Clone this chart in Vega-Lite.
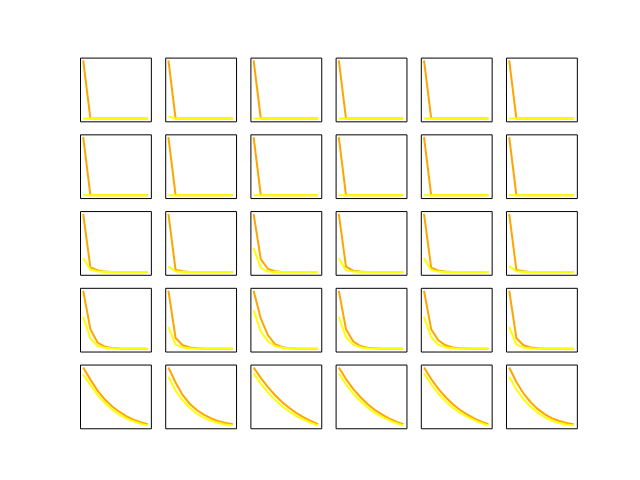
{
  "$schema": "https://vega.github.io/schema/vega-lite/v6.json",
  "padding": {"left": 78, "top": 55.6, "right": 0, "bottom": 0},
  "background": "white",
  "config": {"view": {"stroke": "black", "strokeWidth": 1}},
  "data": {"values": [
{"r":1,"c":1,"x":0,"o":1,"w":0},{"r":1,"c":1,"x":1,"o":0,"w":0},{"r":1,"c":1,"x":2,"o":0,"w":0},{"r":1,"c":1,"x":3,"o":0,"w":0},{"r":1,"c":1,"x":4,"o":0,"w":0},{"r":1,"c":1,"x":5,"o":0,"w":0},{"r":1,"c":1,"x":6,"o":0,"w":0},{"r":1,"c":1,"x":7,"o":0,"w":0},{"r":1,"c":1,"x":8,"o":0,"w":0},{"r":1,"c":1,"x":9,"o":0,"w":0},
{"r":1,"c":2,"x":0,"o":1,"w":0.035},{"r":1,"c":2,"x":1,"o":0,"w":0},{"r":1,"c":2,"x":2,"o":0,"w":0},{"r":1,"c":2,"x":3,"o":0,"w":0},{"r":1,"c":2,"x":4,"o":0,"w":0},{"r":1,"c":2,"x":5,"o":0,"w":0},{"r":1,"c":2,"x":6,"o":0,"w":0},{"r":1,"c":2,"x":7,"o":0,"w":0},{"r":1,"c":2,"x":8,"o":0,"w":0},{"r":1,"c":2,"x":9,"o":0,"w":0},
{"r":1,"c":3,"x":0,"o":1,"w":0},{"r":1,"c":3,"x":1,"o":0,"w":0},{"r":1,"c":3,"x":2,"o":0,"w":0},{"r":1,"c":3,"x":3,"o":0,"w":0},{"r":1,"c":3,"x":4,"o":0,"w":0},{"r":1,"c":3,"x":5,"o":0,"w":0},{"r":1,"c":3,"x":6,"o":0,"w":0},{"r":1,"c":3,"x":7,"o":0,"w":0},{"r":1,"c":3,"x":8,"o":0,"w":0},{"r":1,"c":3,"x":9,"o":0,"w":0},
{"r":1,"c":4,"x":0,"o":1,"w":0},{"r":1,"c":4,"x":1,"o":0,"w":0},{"r":1,"c":4,"x":2,"o":0,"w":0},{"r":1,"c":4,"x":3,"o":0,"w":0},{"r":1,"c":4,"x":4,"o":0,"w":0},{"r":1,"c":4,"x":5,"o":0,"w":0},{"r":1,"c":4,"x":6,"o":0,"w":0},{"r":1,"c":4,"x":7,"o":0,"w":0},{"r":1,"c":4,"x":8,"o":0,"w":0},{"r":1,"c":4,"x":9,"o":0,"w":0},
{"r":1,"c":5,"x":0,"o":1,"w":0},{"r":1,"c":5,"x":1,"o":0,"w":0},{"r":1,"c":5,"x":2,"o":0,"w":0},{"r":1,"c":5,"x":3,"o":0,"w":0},{"r":1,"c":5,"x":4,"o":0,"w":0},{"r":1,"c":5,"x":5,"o":0,"w":0},{"r":1,"c":5,"x":6,"o":0,"w":0},{"r":1,"c":5,"x":7,"o":0,"w":0},{"r":1,"c":5,"x":8,"o":0,"w":0},{"r":1,"c":5,"x":9,"o":0,"w":0},
{"r":1,"c":6,"x":0,"o":1,"w":0},{"r":1,"c":6,"x":1,"o":0,"w":0},{"r":1,"c":6,"x":2,"o":0,"w":0},{"r":1,"c":6,"x":3,"o":0,"w":0},{"r":1,"c":6,"x":4,"o":0,"w":0},{"r":1,"c":6,"x":5,"o":0,"w":0},{"r":1,"c":6,"x":6,"o":0,"w":0},{"r":1,"c":6,"x":7,"o":0,"w":0},{"r":1,"c":6,"x":8,"o":0,"w":0},{"r":1,"c":6,"x":9,"o":0,"w":0},
{"r":2,"c":1,"x":0,"o":1,"w":0},{"r":2,"c":1,"x":1,"o":0,"w":0},{"r":2,"c":1,"x":2,"o":0,"w":0},{"r":2,"c":1,"x":3,"o":0,"w":0},{"r":2,"c":1,"x":4,"o":0,"w":0},{"r":2,"c":1,"x":5,"o":0,"w":0},{"r":2,"c":1,"x":6,"o":0,"w":0},{"r":2,"c":1,"x":7,"o":0,"w":0},{"r":2,"c":1,"x":8,"o":0,"w":0},{"r":2,"c":1,"x":9,"o":0,"w":0},
{"r":2,"c":2,"x":0,"o":1,"w":0},{"r":2,"c":2,"x":1,"o":0,"w":0},{"r":2,"c":2,"x":2,"o":0,"w":0},{"r":2,"c":2,"x":3,"o":0,"w":0},{"r":2,"c":2,"x":4,"o":0,"w":0},{"r":2,"c":2,"x":5,"o":0,"w":0},{"r":2,"c":2,"x":6,"o":0,"w":0},{"r":2,"c":2,"x":7,"o":0,"w":0},{"r":2,"c":2,"x":8,"o":0,"w":0},{"r":2,"c":2,"x":9,"o":0,"w":0},
{"r":2,"c":3,"x":0,"o":1,"w":0},{"r":2,"c":3,"x":1,"o":0,"w":0},{"r":2,"c":3,"x":2,"o":0,"w":0},{"r":2,"c":3,"x":3,"o":0,"w":0},{"r":2,"c":3,"x":4,"o":0,"w":0},{"r":2,"c":3,"x":5,"o":0,"w":0},{"r":2,"c":3,"x":6,"o":0,"w":0},{"r":2,"c":3,"x":7,"o":0,"w":0},{"r":2,"c":3,"x":8,"o":0,"w":0},{"r":2,"c":3,"x":9,"o":0,"w":0},
{"r":2,"c":4,"x":0,"o":1,"w":0},{"r":2,"c":4,"x":1,"o":0,"w":0},{"r":2,"c":4,"x":2,"o":0,"w":0},{"r":2,"c":4,"x":3,"o":0,"w":0},{"r":2,"c":4,"x":4,"o":0,"w":0},{"r":2,"c":4,"x":5,"o":0,"w":0},{"r":2,"c":4,"x":6,"o":0,"w":0},{"r":2,"c":4,"x":7,"o":0,"w":0},{"r":2,"c":4,"x":8,"o":0,"w":0},{"r":2,"c":4,"x":9,"o":0,"w":0},
{"r":2,"c":5,"x":0,"o":1,"w":0},{"r":2,"c":5,"x":1,"o":0,"w":0},{"r":2,"c":5,"x":2,"o":0,"w":0},{"r":2,"c":5,"x":3,"o":0,"w":0},{"r":2,"c":5,"x":4,"o":0,"w":0},{"r":2,"c":5,"x":5,"o":0,"w":0},{"r":2,"c":5,"x":6,"o":0,"w":0},{"r":2,"c":5,"x":7,"o":0,"w":0},{"r":2,"c":5,"x":8,"o":0,"w":0},{"r":2,"c":5,"x":9,"o":0,"w":0},
{"r":2,"c":6,"x":0,"o":1,"w":0},{"r":2,"c":6,"x":1,"o":0,"w":0},{"r":2,"c":6,"x":2,"o":0,"w":0},{"r":2,"c":6,"x":3,"o":0,"w":0},{"r":2,"c":6,"x":4,"o":0,"w":0},{"r":2,"c":6,"x":5,"o":0,"w":0},{"r":2,"c":6,"x":6,"o":0,"w":0},{"r":2,"c":6,"x":7,"o":0,"w":0},{"r":2,"c":6,"x":8,"o":0,"w":0},{"r":2,"c":6,"x":9,"o":0,"w":0},
{"r":3,"c":1,"x":0,"o":1,"w":0.235},{"r":3,"c":1,"x":1,"o":0.075,"w":0.04},{"r":3,"c":1,"x":2,"o":0.03,"w":0.01},{"r":3,"c":1,"x":3,"o":0.005,"w":0},{"r":3,"c":1,"x":4,"o":0,"w":0},{"r":3,"c":1,"x":5,"o":0,"w":0},{"r":3,"c":1,"x":6,"o":0,"w":0},{"r":3,"c":1,"x":7,"o":0,"w":0},{"r":3,"c":1,"x":8,"o":0,"w":0},{"r":3,"c":1,"x":9,"o":0,"w":0},
{"r":3,"c":2,"x":0,"o":1,"w":0.09},{"r":3,"c":2,"x":1,"o":0.035,"w":0.01},{"r":3,"c":2,"x":2,"o":0.01,"w":0},{"r":3,"c":2,"x":3,"o":0,"w":0},{"r":3,"c":2,"x":4,"o":0,"w":0},{"r":3,"c":2,"x":5,"o":0,"w":0},{"r":3,"c":2,"x":6,"o":0,"w":0},{"r":3,"c":2,"x":7,"o":0,"w":0},{"r":3,"c":2,"x":8,"o":0,"w":0},{"r":3,"c":2,"x":9,"o":0,"w":0},
{"r":3,"c":3,"x":0,"o":1,"w":0.41},{"r":3,"c":3,"x":1,"o":0.22,"w":0.065},{"r":3,"c":3,"x":2,"o":0.05,"w":0.005},{"r":3,"c":3,"x":3,"o":0.01,"w":0},{"r":3,"c":3,"x":4,"o":0,"w":0},{"r":3,"c":3,"x":5,"o":0,"w":0},{"r":3,"c":3,"x":6,"o":0,"w":0},{"r":3,"c":3,"x":7,"o":0,"w":0},{"r":3,"c":3,"x":8,"o":0,"w":0},{"r":3,"c":3,"x":9,"o":0,"w":0},
{"r":3,"c":4,"x":0,"o":1,"w":0.235},{"r":3,"c":4,"x":1,"o":0.09,"w":0.03},{"r":3,"c":4,"x":2,"o":0.02,"w":0.005},{"r":3,"c":4,"x":3,"o":0.005,"w":0},{"r":3,"c":4,"x":4,"o":0,"w":0},{"r":3,"c":4,"x":5,"o":0,"w":0},{"r":3,"c":4,"x":6,"o":0,"w":0},{"r":3,"c":4,"x":7,"o":0,"w":0},{"r":3,"c":4,"x":8,"o":0,"w":0},{"r":3,"c":4,"x":9,"o":0,"w":0},
{"r":3,"c":5,"x":0,"o":1,"w":0.235},{"r":3,"c":5,"x":1,"o":0.075,"w":0.03},{"r":3,"c":5,"x":2,"o":0.02,"w":0.005},{"r":3,"c":5,"x":3,"o":0.005,"w":0},{"r":3,"c":5,"x":4,"o":0,"w":0},{"r":3,"c":5,"x":5,"o":0,"w":0},{"r":3,"c":5,"x":6,"o":0,"w":0},{"r":3,"c":5,"x":7,"o":0,"w":0},{"r":3,"c":5,"x":8,"o":0,"w":0},{"r":3,"c":5,"x":9,"o":0,"w":0},
{"r":3,"c":6,"x":0,"o":1,"w":0.1},{"r":3,"c":6,"x":1,"o":0.035,"w":0.01},{"r":3,"c":6,"x":2,"o":0.01,"w":0},{"r":3,"c":6,"x":3,"o":0,"w":0},{"r":3,"c":6,"x":4,"o":0,"w":0},{"r":3,"c":6,"x":5,"o":0,"w":0},{"r":3,"c":6,"x":6,"o":0,"w":0},{"r":3,"c":6,"x":7,"o":0,"w":0},{"r":3,"c":6,"x":8,"o":0,"w":0},{"r":3,"c":6,"x":9,"o":0,"w":0},
{"r":4,"c":1,"x":0,"o":1,"w":0.55},{"r":4,"c":1,"x":1,"o":0.335,"w":0.175},{"r":4,"c":1,"x":2,"o":0.105,"w":0.05},{"r":4,"c":1,"x":3,"o":0.035,"w":0.017},{"r":4,"c":1,"x":4,"o":0.012,"w":0.005},{"r":4,"c":1,"x":5,"o":0.004,"w":0},{"r":4,"c":1,"x":6,"o":0,"w":0},{"r":4,"c":1,"x":7,"o":0,"w":0},{"r":4,"c":1,"x":8,"o":0,"w":0},{"r":4,"c":1,"x":9,"o":0,"w":0},
{"r":4,"c":2,"x":0,"o":1,"w":0.375},{"r":4,"c":2,"x":1,"o":0.185,"w":0.07},{"r":4,"c":2,"x":2,"o":0.058,"w":0.02},{"r":4,"c":2,"x":3,"o":0.02,"w":0.005},{"r":4,"c":2,"x":4,"o":0.006,"w":0},{"r":4,"c":2,"x":5,"o":0,"w":0},{"r":4,"c":2,"x":6,"o":0,"w":0},{"r":4,"c":2,"x":7,"o":0,"w":0},{"r":4,"c":2,"x":8,"o":0,"w":0},{"r":4,"c":2,"x":9,"o":0,"w":0},
{"r":4,"c":3,"x":0,"o":1,"w":0.665},{"r":4,"c":3,"x":1,"o":0.52,"w":0.3},{"r":4,"c":3,"x":2,"o":0.23,"w":0.127},{"r":4,"c":3,"x":3,"o":0.075,"w":0.046},{"r":4,"c":3,"x":4,"o":0.025,"w":0.015},{"r":4,"c":3,"x":5,"o":0.008,"w":0.005},{"r":4,"c":3,"x":6,"o":0.002,"w":0},{"r":4,"c":3,"x":7,"o":0,"w":0},{"r":4,"c":3,"x":8,"o":0,"w":0},{"r":4,"c":3,"x":9,"o":0,"w":0},
{"r":4,"c":4,"x":0,"o":1,"w":0.55},{"r":4,"c":4,"x":1,"o":0.335,"w":0.2},{"r":4,"c":4,"x":2,"o":0.127,"w":0.07},{"r":4,"c":4,"x":3,"o":0.046,"w":0.025},{"r":4,"c":4,"x":4,"o":0.015,"w":0.008},{"r":4,"c":4,"x":5,"o":0.005,"w":0.002},{"r":4,"c":4,"x":6,"o":0,"w":0},{"r":4,"c":4,"x":7,"o":0,"w":0},{"r":4,"c":4,"x":8,"o":0,"w":0},{"r":4,"c":4,"x":9,"o":0,"w":0},
{"r":4,"c":5,"x":0,"o":1,"w":0.55},{"r":4,"c":5,"x":1,"o":0.335,"w":0.2},{"r":4,"c":5,"x":2,"o":0.145,"w":0.07},{"r":4,"c":5,"x":3,"o":0.058,"w":0.025},{"r":4,"c":5,"x":4,"o":0.02,"w":0.008},{"r":4,"c":5,"x":5,"o":0.006,"w":0.002},{"r":4,"c":5,"x":6,"o":0.002,"w":0},{"r":4,"c":5,"x":7,"o":0,"w":0},{"r":4,"c":5,"x":8,"o":0,"w":0},{"r":4,"c":5,"x":9,"o":0,"w":0},
{"r":4,"c":6,"x":0,"o":1,"w":0.375},{"r":4,"c":6,"x":1,"o":0.185,"w":0.07},{"r":4,"c":6,"x":2,"o":0.058,"w":0.02},{"r":4,"c":6,"x":3,"o":0.02,"w":0.005},{"r":4,"c":6,"x":4,"o":0.006,"w":0},{"r":4,"c":6,"x":5,"o":0,"w":0},{"r":4,"c":6,"x":6,"o":0,"w":0},{"r":4,"c":6,"x":7,"o":0,"w":0},{"r":4,"c":6,"x":8,"o":0,"w":0},{"r":4,"c":6,"x":9,"o":0,"w":0},
{"r":5,"c":1,"x":0,"o":1,"w":0.88},{"r":5,"c":1,"x":1,"o":0.79,"w":0.7},{"r":5,"c":1,"x":2,"o":0.6,"w":0.53},{"r":5,"c":1,"x":3,"o":0.45,"w":0.39},{"r":5,"c":1,"x":4,"o":0.33,"w":0.28},{"r":5,"c":1,"x":5,"o":0.24,"w":0.19},{"r":5,"c":1,"x":6,"o":0.16,"w":0.12},{"r":5,"c":1,"x":7,"o":0.1,"w":0.07},{"r":5,"c":1,"x":8,"o":0.055,"w":0.03},{"r":5,"c":1,"x":9,"o":0.02,"w":0},
{"r":5,"c":2,"x":0,"o":1,"w":0.84},{"r":5,"c":2,"x":1,"o":0.74,"w":0.6},{"r":5,"c":2,"x":2,"o":0.52,"w":0.43},{"r":5,"c":2,"x":3,"o":0.37,"w":0.3},{"r":5,"c":2,"x":4,"o":0.26,"w":0.2},{"r":5,"c":2,"x":5,"o":0.18,"w":0.13},{"r":5,"c":2,"x":6,"o":0.12,"w":0.08},{"r":5,"c":2,"x":7,"o":0.07,"w":0.04},{"r":5,"c":2,"x":8,"o":0.04,"w":0.015},{"r":5,"c":2,"x":9,"o":0.02,"w":0},
{"r":5,"c":3,"x":0,"o":1,"w":0.9},{"r":5,"c":3,"x":1,"o":0.82,"w":0.72},{"r":5,"c":3,"x":2,"o":0.66,"w":0.57},{"r":5,"c":3,"x":3,"o":0.52,"w":0.44},{"r":5,"c":3,"x":4,"o":0.4,"w":0.33},{"r":5,"c":3,"x":5,"o":0.3,"w":0.24},{"r":5,"c":3,"x":6,"o":0.21,"w":0.16},{"r":5,"c":3,"x":7,"o":0.14,"w":0.1},{"r":5,"c":3,"x":8,"o":0.075,"w":0.045},{"r":5,"c":3,"x":9,"o":0.02,"w":0},
{"r":5,"c":4,"x":0,"o":1,"w":0.9},{"r":5,"c":4,"x":1,"o":0.8,"w":0.71},{"r":5,"c":4,"x":2,"o":0.63,"w":0.55},{"r":5,"c":4,"x":3,"o":0.49,"w":0.42},{"r":5,"c":4,"x":4,"o":0.37,"w":0.31},{"r":5,"c":4,"x":5,"o":0.27,"w":0.22},{"r":5,"c":4,"x":6,"o":0.19,"w":0.15},{"r":5,"c":4,"x":7,"o":0.12,"w":0.09},{"r":5,"c":4,"x":8,"o":0.065,"w":0.04},{"r":5,"c":4,"x":9,"o":0.02,"w":0},
{"r":5,"c":5,"x":0,"o":1,"w":0.9},{"r":5,"c":5,"x":1,"o":0.8,"w":0.71},{"r":5,"c":5,"x":2,"o":0.63,"w":0.55},{"r":5,"c":5,"x":3,"o":0.49,"w":0.42},{"r":5,"c":5,"x":4,"o":0.37,"w":0.31},{"r":5,"c":5,"x":5,"o":0.27,"w":0.22},{"r":5,"c":5,"x":6,"o":0.19,"w":0.15},{"r":5,"c":5,"x":7,"o":0.12,"w":0.09},{"r":5,"c":5,"x":8,"o":0.065,"w":0.04},{"r":5,"c":5,"x":9,"o":0.02,"w":0},
{"r":5,"c":6,"x":0,"o":1,"w":0.84},{"r":5,"c":6,"x":1,"o":0.75,"w":0.62},{"r":5,"c":6,"x":2,"o":0.55,"w":0.45},{"r":5,"c":6,"x":3,"o":0.4,"w":0.32},{"r":5,"c":6,"x":4,"o":0.28,"w":0.22},{"r":5,"c":6,"x":5,"o":0.19,"w":0.14},{"r":5,"c":6,"x":6,"o":0.12,"w":0.08},{"r":5,"c":6,"x":7,"o":0.075,"w":0.04},{"r":5,"c":6,"x":8,"o":0.04,"w":0.015},{"r":5,"c":6,"x":9,"o":0.02,"w":0}
  ]},
  "facet": {
    "row": {"field": "r", "type": "ordinal", "title": null, "header": {"labels": false, "title": null}},
    "column": {"field": "c", "type": "ordinal", "title": null, "header": {"labels": false, "title": null}}
  },
  "spacing": {"row": 8.74, "column": 10.2},
  "spec": {
    "width": 70.86,
    "height": 63.72,
    "layer": [
      {
        "mark": {"type": "line", "color": "#FFA500", "strokeWidth": 2},
        "encoding": {
          "x": {"field": "x", "type": "quantitative", "axis": null, "scale": {"domain": [-0.45, 9.45], "nice": false, "zero": false}},
          "y": {"field": "o", "type": "quantitative", "axis": null, "scale": {"domain": [-0.05, 1.05], "nice": false, "zero": false}}
        }
      },
      {
        "mark": {"type": "line", "color": "#FFFF00", "strokeWidth": 2},
        "encoding": {
          "x": {"field": "x", "type": "quantitative", "axis": null},
          "y": {"field": "w", "type": "quantitative", "axis": null}
        }
      }
    ]
  }
}
